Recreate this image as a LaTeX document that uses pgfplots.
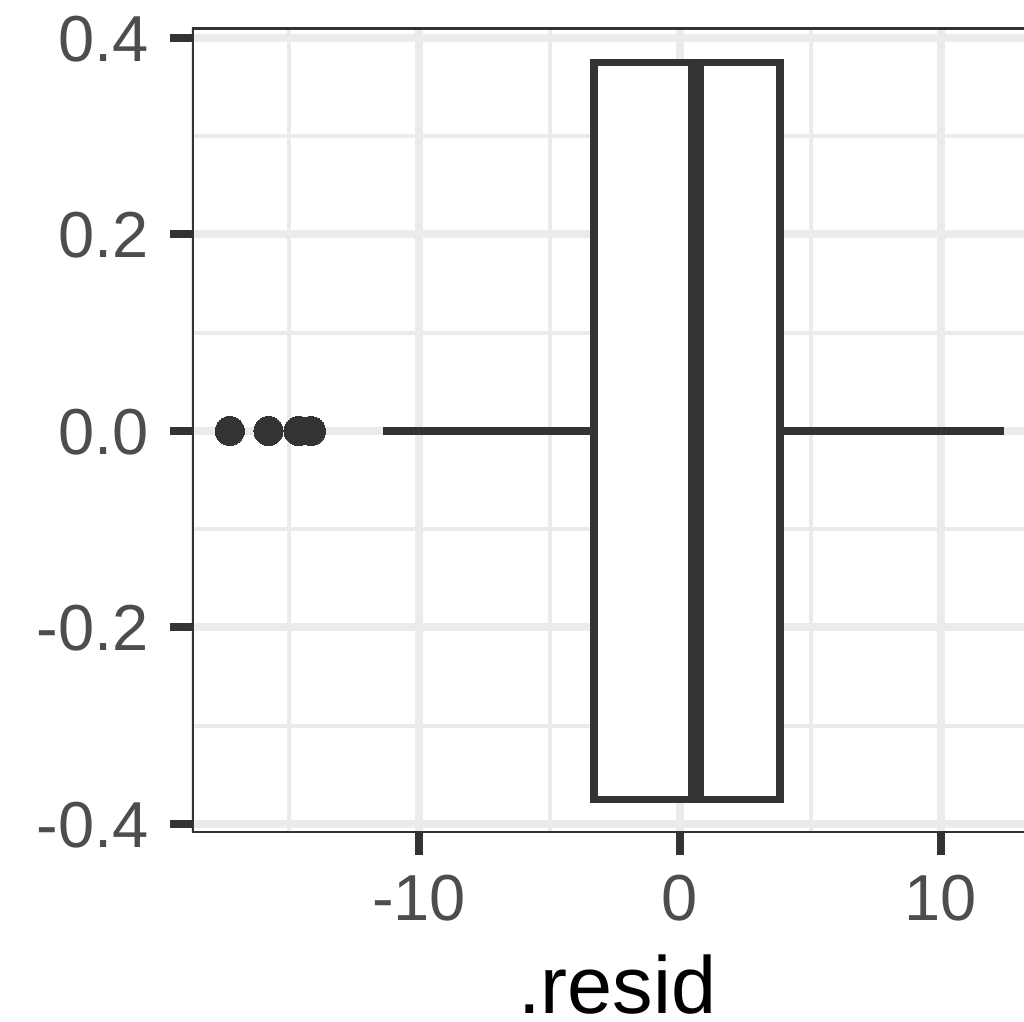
\documentclass[border=0pt]{standalone}
\usepackage{pgfplots}
\pgfplotsset{compat=1.18}
\usepgfplotslibrary{statistics}
\usepackage{fontspec}
\setmainfont{Liberation Sans}

\definecolor{ink}{HTML}{333333}
\definecolor{ticktext}{HTML}{4D4D4D}
\definecolor{gridgrey}{HTML}{EBEBEB}

\begin{document}
\begin{tikzpicture}
\begin{axis}[
  at={(0,0)}, anchor=south west,
  scale only axis,
  width=416pt, height=402.5pt,
  xmin=-18.70, xmax=13.18,
  ymin=-0.4092, ymax=0.4102,
  axis line style={draw=none},
  tick pos=left,
  tick align=outside,
  major tick length=11pt,
  minor tick length=0pt,
  every tick/.style={ink, line width=4pt},
  xtick={-10,0,10},
  xticklabels={-10,0,10},
  ytick={-0.4,-0.2,0,0.2,0.4},
  yticklabels={-0.4,-0.2,0.0,0.2,0.4},
  minor xtick={-15,-5,5},
  minor ytick={-0.3,-0.1,0.1,0.3},
  grid=both,
  major grid style={gridgrey, line width=4pt},
  minor grid style={gridgrey, line width=2pt},
  /pgf/number format/assume math mode=true,
  ticklabel style={font=\fontsize{32.5}{38}\selectfont, text=ticktext},
  xticklabel style={anchor=base, inner sep=0pt, yshift=-33pt},
  yticklabel style={anchor=base east, inner sep=0pt, yshift=-11.6pt, xshift=-10.5pt},
  xlabel={.resid},
  xlabel style={at={(axis description cs:0.511,0)}, anchor=base,
    yshift=-90.5pt, inner sep=0pt, font=\fontsize{40.5}{48}\selectfont, text=black},
]
\addplot+[
  boxplot prepared={
    lower whisker=-11.39,
    lower quartile=-3.30,
    median=0.62,
    upper quartile=3.82,
    upper whisker=12.41,
    draw position=0,
    box extend=0.75,
    whisker extend=0,
  },
  draw=ink, fill=white, line width=3.85pt,
  boxplot/every median/.style={line width=7.8pt},
  mark=*, mark size=7.25pt,
  mark options={draw=ink, fill=ink, line width=0pt},
] coordinates {(0,-17.25) (0,-15.77) (0,-14.62) (0,-14.14)};
% panel border on the top, left and bottom sides
\draw[ink, line width=2.35pt]
  (rel axis cs:1.02,1) -- (rel axis cs:0,1) -- (rel axis cs:0,0) -- (rel axis cs:1.02,0);
\end{axis}
\pgfresetboundingbox
\path[use as bounding box] (-96pt,-94.5pt) rectangle (416pt,416.5pt);
\end{tikzpicture}
\end{document}
